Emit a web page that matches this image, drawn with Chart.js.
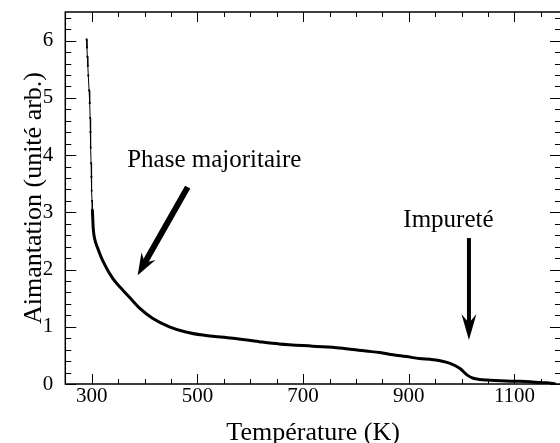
<!DOCTYPE html>
<html>
<head>
<meta charset="utf-8">
<script src="https://cdn.jsdelivr.net/npm/chart.js@4"></script>
<style>
  html, body { margin: 0; padding: 0; background: #fff; overflow: hidden; }
  #wrap { width: 565px; height: 443px; }
</style>
</head>
<body>
<div id="wrap"><canvas id="magChart" width="565" height="443"></canvas></div>
<script>
// Steep low-temperature part (sparse points)
const tempSteep = [290.3, 291.0, 291.7, 292.6, 293.5, 295.0, 296.2, 297.0, 297.6, 298.2, 298.8, 299.4, 300.0, 300.6, 301.2];
const magSteep  = [6.02, 5.88, 5.72, 5.56, 5.39, 5.13, 4.91, 4.65, 4.40, 4.13, 3.86, 3.62, 3.38, 3.20, 3.05];

// Main curve
const tempMain = [301.2, 302, 303, 306, 311, 321, 340, 359, 371, 390, 415, 447, 478, 510, 567, 617, 655, 718, 769, 819, 845, 870, 895, 920, 946, 978, 997, 1010, 1022, 1034, 1047, 1098, 1129, 1149, 1160, 1178];
const magMain  = [3.05, 2.88, 2.70, 2.52, 2.38, 2.15, 1.84, 1.64, 1.52, 1.33, 1.15, 1.00, 0.91, 0.855, 0.80, 0.74, 0.70, 0.66, 0.63, 0.575, 0.55, 0.51, 0.48, 0.445, 0.425, 0.36, 0.27, 0.16, 0.10, 0.08, 0.07, 0.05, 0.04, 0.025, 0.02, 0.0];

const xTicks = [300, 500, 700, 900, 1100];
const yTicks = [0, 1, 2, 3, 4, 5, 6];

// Annotations (data coordinates)
const notes = [
    { text: "Phase majoritaire", x: 532, y: 3.79 },
    { text: "Impureté", x: 975, y: 2.74 }
];
const arrows = [
    { from: [481.6, 3.44], to: [386.9, 1.90], width: 6, head: 22, half: 8 },
    { from: [1013.8, 2.55], to: [1013.8, 0.77], width: 4, head: 26, half: 7.5 }
];

const SERIF = "'Liberation Serif', 'DejaVu Serif', serif";

function pts(xs, ys) { return xs.map((x, i) => ({ x: x, y: ys[i] })); }

const framePlugin = {
    id: 'frame',
    afterDatasetsDraw(chart) {
        const ctx = chart.ctx;
        const xs = chart.scales.x, ys = chart.scales.y;
        ctx.save();
        // arrows
        ctx.fillStyle = '#000';
        ctx.strokeStyle = '#000';
        arrows.forEach(a => {
            const x0 = xs.getPixelForValue(a.from[0]), y0 = ys.getPixelForValue(a.from[1]);
            const x1 = xs.getPixelForValue(a.to[0]), y1 = ys.getPixelForValue(a.to[1]);
            const len = Math.hypot(x1 - x0, y1 - y0);
            const ux = (x1 - x0) / len, uy = (y1 - y0) / len;
            const nx = -uy, ny = ux;
            const bx = x1 - ux * a.head, by = y1 - uy * a.head;
            ctx.lineWidth = a.width;
            ctx.lineCap = 'butt';
            ctx.beginPath();
            ctx.moveTo(x0, y0);
            ctx.lineTo(x1 - ux * a.head * 0.6, y1 - uy * a.head * 0.6);
            ctx.stroke();
            ctx.beginPath();
            ctx.moveTo(x1, y1);
            ctx.lineTo(bx + nx * a.half, by + ny * a.half);
            ctx.lineTo(x1 - ux * a.head * 0.65, y1 - uy * a.head * 0.65);
            ctx.lineTo(bx - nx * a.half, by - ny * a.half);
            ctx.closePath();
            ctx.fill();
        });
        // texts
        ctx.font = '25px ' + SERIF;
        ctx.textAlign = 'center';
        ctx.textBaseline = 'alphabetic';
        notes.forEach(n => {
            ctx.fillText(n.text, xs.getPixelForValue(n.x), ys.getPixelForValue(n.y));
        });
        ctx.restore();
    },
    afterDraw(chart) {
        const ctx = chart.ctx;
        const a = chart.chartArea;
        const xs = chart.scales.x, ys = chart.scales.y;
        ctx.save();
        ctx.strokeStyle = '#000';
        ctx.lineWidth = 1.5;
        ctx.strokeRect(a.left, a.top, a.right - a.left, a.bottom - a.top);
        // inward ticks on all four sides
        ctx.lineWidth = 1;
        ctx.beginPath();
        for (let v = 250; v <= xs.max; v += 50) {
            const p = Math.round(xs.getPixelForValue(v)) + 0.5;
            const l = xTicks.includes(v) ? 10 : 5;
            ctx.moveTo(p, a.bottom); ctx.lineTo(p, a.bottom - l);
            ctx.moveTo(p, a.top); ctx.lineTo(p, a.top + l);
        }
        for (let i = 0; i <= 32; i++) {
            const v = i * 0.2;
            const p = Math.round(ys.getPixelForValue(v)) + 0.5;
            const l = (i % 5 === 0) ? 11 : 6;
            ctx.moveTo(a.left, p); ctx.lineTo(a.left + l, p);
            ctx.moveTo(a.right, p); ctx.lineTo(a.right - l, p);
        }
        ctx.stroke();
        ctx.restore();
    }
};

new Chart(document.getElementById('magChart'), {
    type: 'scatter',
    data: {
        datasets: [{
            data: pts(tempSteep, magSteep),
            showLine: true,
            borderColor: '#000',
            backgroundColor: '#000',
            borderWidth: 1,
            pointStyle: 'rect',
            pointRadius: 1.3,
            pointBorderWidth: 0
        }, {
            data: pts(tempMain, magMain),
            showLine: true,
            borderColor: '#000',
            borderWidth: 3,
            pointRadius: 0,
            cubicInterpolationMode: 'monotone'
        }]
    },
    options: {
        responsive: false,
        animation: false,
        layout: { padding: { top: 12, right: 1, left: 0, bottom: 0 } },
        plugins: { legend: { display: false }, tooltip: { enabled: false } },
        scales: {
            x: {
                type: 'linear',
                min: 250,
                max: 1188,
                grid: { display: false, drawTicks: false },
                border: { display: false },
                afterBuildTicks: s => { s.ticks = xTicks.map(v => ({ value: v })); },
                afterFit: s => { s.height = 59; s.paddingLeft = 0; s.paddingRight = 0; },
                ticks: { color: '#000', font: { family: SERIF, size: 21 }, padding: 0, maxRotation: 0, callback: v => String(v) },
                title: {
                    display: true, text: 'Température (K)', color: '#000',
                    font: { family: SERIF, size: 26, lineHeight: 0.75 }, padding: 0
                }
            },
            y: {
                min: 0,
                max: 6.5,
                grid: { display: false, drawTicks: false },
                border: { display: false },
                afterBuildTicks: s => { s.ticks = yTicks.map(v => ({ value: v })); },
                afterFit: s => { s.width = 65.3; s.paddingTop = 0; s.paddingBottom = 0; },
                ticks: { color: '#000', font: { family: SERIF, size: 21 }, padding: 12 },
                title: {
                    display: true, text: 'Aimantation (unité arb.)', color: '#000',
                    font: { family: SERIF, size: 26, lineHeight: 1 }, padding: { top: 21, bottom: 0 }
                }
            }
        }
    },
    plugins: [framePlugin]
});
</script>
</body>
</html>
